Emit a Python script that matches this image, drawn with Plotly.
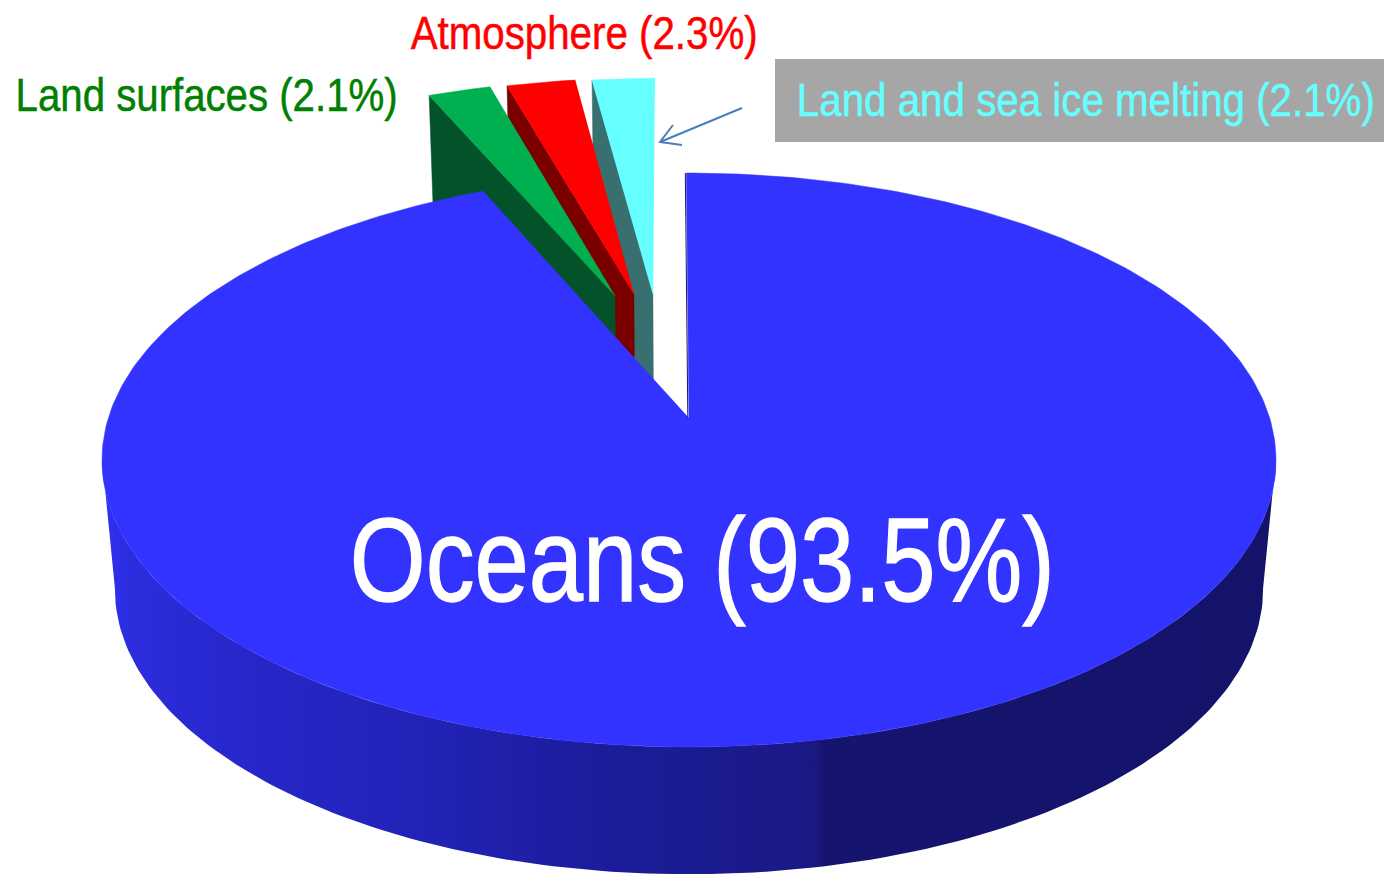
import json

import numpy as np
import plotly.graph_objects as go

# Shares of the heat budget, in clockwise order from the twelve o'clock cut
labels = ["Oceans", "Land surfaces", "Atmosphere", "Land and sea ice melting"]
shares = [93.5, 2.1, 2.3, 2.1]
top_colors = ["#3333FF", "#00B050", "#FF0000", "#66FFFF"]
wall_colors = ["#14146A", "#03522A", "#7A0000", "#38706F"]
text_colors = ["#FFFFFF", "#008000", "#FF0000", "#66FFFF"]
# Offset of each pulled-out slice on the ground plane (Oceans stays put)
pull_u = [0.0, -0.136, -0.101, -0.066]
pull_v = [0.0, -0.465, -0.470, -0.470]

# Perspective camera: one set of constants for the top disc, one for the bottom
CX, W = 689.0, 3966.0
TOP = dict(y0=-1500.0, h=13100.0, d=6.83)
BOTTOM = dict(y0=-1400.0, h=13600.0, d=6.98)
START_DEG = -0.3

# Colour of the rim as it turns from the lit left side to the shaded right side
rim_stops = [(102, "#3030F2"), (135, "#2C2CDC"), (260, "#2626C8"), (400, "#2323BA"),
             (590, "#1C1C9C"), (815, "#191984"), (822, "#15156F"), (1276, "#13136A")]


def project(u, v, plane):
    depth = plane["d"] - np.asarray(v)
    return CX + W * np.asarray(u) / depth, plane["y0"] + plane["h"] / depth


def ring(deg):
    a = np.radians(deg)
    return np.sin(a), -np.cos(a)


fig = go.Figure()


def polygon(x, y, color, name):
    fig.add_trace(go.Scatter(
        x=x, y=y, mode="lines", fill="toself", fillcolor=color,
        line=dict(color=color, width=0.5), hoverinfo="text", text=name,
        showlegend=False))


# Slice boundaries in degrees, measured clockwise from north
edges = START_DEG + np.cumsum([0.0] + shares) * 3.6

# Pulled-out slices, far to near so each top hides the next wall
for i in [3, 2, 1]:
    arc = np.linspace(edges[i], edges[i + 1], 12)
    au, av = ring(arc)
    u = np.concatenate([[0.0], au]) + pull_u[i]
    v = np.concatenate([[0.0], av]) + pull_v[i]
    # Left wall runs from the apex out to the rim on the counter-clockwise side
    wu = np.array([0.0, au[0]]) + pull_u[i]
    wv = np.array([0.0, av[0]]) + pull_v[i]
    tx, ty = project(wu, wv, TOP)
    bx, by = project(wu, wv, BOTTOM)
    polygon(np.r_[tx, bx[::-1]], np.r_[ty, by[::-1]], wall_colors[i], labels[i])
    x, y = project(u, v, TOP)
    polygon(x, y, top_colors[i], labels[i])

# Rim of the large slice: front half of both discs, shaded left to right
front = np.linspace(98, 262, 160)
fu, fv = ring(front)
tx, ty = project(fu, fv, TOP)
bx, by = project(fu, fv, BOTTOM)
span = rim_stops[-1][0] - rim_stops[0][0]
fig.add_trace(go.Scatter(
    x=np.r_[tx, bx[::-1]], y=np.r_[ty, by[::-1]], mode="lines", fill="toself",
    fillgradient=dict(
        type="horizontal", start=rim_stops[0][0], stop=rim_stops[-1][0],
        colorscale=[[(p - rim_stops[0][0]) / span, c] for p, c in rim_stops]),
    line=dict(width=0), hoverinfo="skip", showlegend=False))

# Top face of the large slice
arc = np.linspace(edges[0], edges[1], 400)
au, av = ring(arc)
x, y = project(np.r_[0.0, au], np.r_[0.0, av], TOP)
polygon(x, y, top_colors[0], labels[0])

# Dark sliver of the cut wall along the slice's right-hand edge
eu, ev = ring(edges[0])
x, y = project(np.array([0.0, eu]) - 0.002, np.array([0.0, ev]), TOP)
fig.add_trace(go.Scatter(x=x, y=y, mode="lines", hoverinfo="skip", showlegend=False,
                         line=dict(color="#14146A", width=1)))

label_text = [f"{n} ({s}%)" for n, s in zip(labels, shares)]
FONT = "Liberation Sans, Arial, sans-serif"
label_pos = [(702.5, 560, 118), (206, 95, 46), (583.5, 33, 46), (1086, 100, 46)]
# Printed widths of the labels; the face is condensed to fit them
label_widths = [705, 382, 347, 578]
# Extra stem weight for the narrower letters
label_stroke = [1.3, 0.5, 0.5, 0.5]
annotations = [
    dict(x=px, y=py, text=t, showarrow=False, xref="x", yref="y",
         xanchor="center", yanchor="middle",
         font=dict(family=FONT, size=sz, color=c))
    for t, (px, py, sz), c in zip(label_text, label_pos, text_colors)
]

fig.update_layout(
    width=1384, height=874, margin=dict(l=0, r=0, t=0, b=0),
    paper_bgcolor="white", plot_bgcolor="white", showlegend=False,
    xaxis=dict(range=[0, 1384], visible=False, fixedrange=True),
    yaxis=dict(range=[874, 0], visible=False, fixedrange=True),
    annotations=annotations,
    shapes=[
        dict(type="rect", xref="x", yref="y", x0=775, x1=1384, y0=59, y1=142,
             fillcolor="#A6A6A6", line=dict(width=0), layer="below"),
        dict(type="path", xref="x", yref="y",
             path="M 742 108 L 660 142 M 673 125 L 660 142 L 682 145",
             line=dict(color="#4A7EBB", width=2), layer="above"),
    ],
)

# Condense the label text horizontally, the way a narrow face would set it
condense = (
    "var widths = " + json.dumps(label_widths) + ";"
    "var strokes = " + json.dumps(label_stroke) + ";"
    "var colors = " + json.dumps(text_colors) + ";"
    "document.querySelectorAll('text.annotation-text').forEach(function (t, i) {"
    "  t.setAttribute('textLength', widths[i]);"
    "  t.setAttribute('lengthAdjust', 'spacingAndGlyphs');"
    "  t.style.stroke = colors[i];"
    "  t.style.strokeWidth = strokes[i] + 'px';"
    "});"
)

fig.write_html("out.html", post_script=condense)
